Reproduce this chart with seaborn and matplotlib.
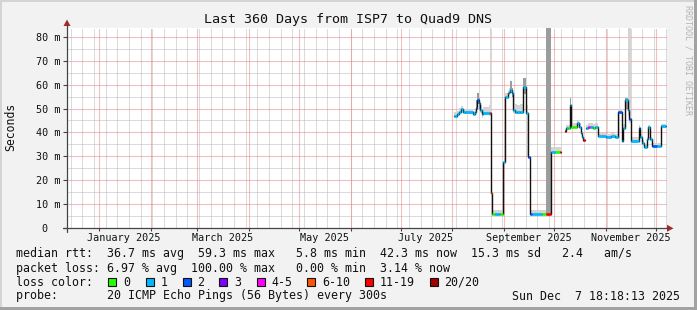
import numpy as np
import pandas as pd
import matplotlib
matplotlib.use("Agg")
import matplotlib.pyplot as plt
import seaborn as sns
from matplotlib.patches import Rectangle, Polygon
from matplotlib.lines import Line2D

# ---------------- data ----------------
start = pd.Timestamp("2024-12-12 18:18:13")
end = pd.Timestamp("2025-12-07 18:18:13")
span_days = 360.0
data_end_day = 359.4

# step segments: start day (days since start), median RTT (ms), loss bucket, smoke low/high (ms), dark smoke flag
seg_day = [232.2, 234.0, 235.2, 236.4, 237.6, 238.8, 243.6, 244.8, 245.4, 246.0,
           246.9, 247.8, 248.7, 249.6, 253.0, 253.5, 254.2, 254.8, 256.5, 259.8,
           261.8, 262.5, 264.6, 265.2, 265.8, 266.8, 267.4, 268.6, 270.0, 271.8,
           273.3, 273.8, 275.4, 276.8, 277.8, 279.0, 284.8, 287.4, 290.2, 290.6,
           292.8, 295.8, 296.4, 298.8, 299.4, 300.3, 301.5, 302.4, 304.2, 306.0,
           306.9, 308.4, 309.2, 309.8, 310.8, 311.2, 312.4, 313.8, 315.3, 316.8,
           318.4, 323.4, 326.6, 328.8, 330.8, 332.8, 333.4, 334.8, 336.4, 337.4,
           338.2, 343.2, 343.8, 344.8, 346.4, 347.8, 348.8, 349.8, 350.8, 353.8,
           356.2]
seg_ms = [47.0, 47.6, 48.7, 49.8, 48.7, 48.4, 47.6, 48.4, 50.1, 53.6,
          52.2, 49.4, 47.6, 48.0, 48.0, 48.0, 14.9, 6.0, 6.0, 6.0,
          27.7, 54.9, 56.3, 57.0, 57.7, 56.6, 49.4, 48.7, 48.4, 48.7,
          49.4, 59.1, 48.0, 29.8, 6.0, 6.0, 6.0, 6.0, 9.6, 32.0,
          32.0, 32.0, np.nan, 40.6, 41.7, 41.7, 51.5, 42.4, 42.4, 43.8,
          42.4, 39.6, 38.2, 36.8, np.nan, 41.7, 42.4, 42.4, 42.0, 42.4,
          38.6, 38.0, 38.6, 38.2, 48.6, 36.6, 42.0, 53.5, 49.3, 45.8,
          36.6, 41.7, 38.3, 35.7, 34.0, 37.1, 42.1, 37.1, 34.3, 34.3,
          42.6]
seg_loss = [1, 1, 1, 1, 1, 1, 1, 1, 2, 2,
            1, 1, 1, 1, 1, 6, 5, 0, 1, 0,
            1, 1, 1, 1, 1, 1, 1, 1, 1, 1,
            1, 1, 1, 2, 2, 1, 0, 6, 2, 1,
            0, 6, 1, 7, 1, 0, 1, 0, 0, 1,
            1, 1, 1, 6, 1, 1, 4, 1, 0, 1,
            1, 1, 1, 1, 2, 1, 1, 1, 1, 2,
            1, 2, 1, 1, 1, 1, 1, 1, 2, 1,
            1]
smoke_lo = [46.6, 47.2, 48.2, 49.2, 48.2, 47.9, 47.2, 47.9, 49.0, 52.0,
            50.0, 48.0, 46.0, 47.5, 47.0, 47.0, np.nan, 6.0, 6.0, 6.0,
            np.nan, 54.2, 55.5, 56.0, 56.5, 55.0, 48.0, 47.5, 47.5, 47.8,
            48.0, 56.0, 30.0, np.nan, 6.0, 6.0, 6.0, 6.0, np.nan, 31.5,
            31.5, 31.5, np.nan, 40.0, 41.0, 41.0, 49.0, 41.8, 41.8, 43.0,
            41.8, 39.0, 37.6, 36.2, np.nan, 41.0, 41.8, 41.8, 41.5, 41.8,
            38.0, 37.5, 38.0, 37.6, 47.5, 36.0, 41.0, 50.0, 47.0, 44.0,
            36.0, 41.0, 37.7, 35.0, 33.5, 36.5, 41.5, 36.5, 33.8, 33.8,
            42.0]
smoke_hi = [48.4, 49.0, 50.2, 51.0, 50.0, 49.6, 49.0, 50.0, 53.5, 56.4,
            54.5, 51.5, 50.0, 50.5, 51.5, 90.0, np.nan, 7.8, 7.8, 7.8,
            np.nan, 56.5, 57.5, 58.5, 61.5, 58.5, 52.5, 52.0, 51.5, 52.0,
            52.0, 62.6, 51.5, np.nan, 7.8, 7.8, 7.8, 90.0, np.nan, 33.8,
            33.8, 33.8, np.nan, 41.5, 43.0, 43.0, 54.3, 43.8, 44.0, 45.0,
            43.8, 41.0, 39.6, 38.0, np.nan, 43.0, 43.8, 44.0, 43.5, 43.8,
            39.8, 39.2, 39.8, 39.5, 50.0, 38.0, 43.5, 54.5, 90.0, 90.0,
            38.0, 43.0, 39.5, 37.0, 35.2, 38.3, 43.3, 38.3, 35.5, 35.5,
            43.5]
smoke_dark = [0, 0, 0, 0, 0, 0, 0, 0, 1, 1,
              1, 0, 0, 0, 0, 0, 0, 0, 0, 0,
              0, 0, 0, 0, 1, 1, 0, 0, 0, 0,
              0, 1, 0, 0, 0, 0, 0, 1, 0, 0,
              0, 0, 0, 0, 0, 0, 1, 0, 0, 0,
              0, 0, 0, 0, 0, 0, 0, 0, 0, 0,
              0, 0, 0, 0, 0, 0, 0, 1, 0, 0,
              0, 0, 0, 0, 0, 0, 0, 0, 0, 0,
              0]

loss_colors = ["#26ff00", "#00b8ff", "#0059ff", "#7e00ff", "#ff00ff", "#ff5500", "#ff0000", "#a10000"]
loss_labels = ["0", "1", "2", "3", "4-5", "6-10", "11-19", "20/20"]
loss_box_x = [108.3, 145.7, 182.7, 219.3, 256.7, 307.3, 365.0, 430.0]

y_ticks = [0, 10, 20, 30, 40, 50, 60, 70, 80]
y_ticklabels = ["0  ", "10 m", "20 m", "30 m", "40 m", "50 m", "60 m", "70 m", "80 m"]
x_label_months = ["2025-01-16", "2025-03-16", "2025-05-16", "2025-07-16", "2025-09-16", "2025-11-16"]
x_label_text = ["January 2025", "March 2025", "May 2025", "July 2025", "September 2025", "November 2025"]

title = "Last 360 Days from ISP7 to Quad9 DNS"
legend_rows = [
    "median rtt:  36.7 ms avg  59.3 ms max   5.8 ms min  42.3 ms now  15.3 ms sd   2.4   am/s",
    "packet loss: 6.97 % avg  100.00 % max   0.00 % min  3.14 % now",
]
probe_text = "probe:       20 ICMP Echo Pings (56 Bytes) every 300s"
stamp_text = "Sun Dec  7 18:18:13 2025"

# ---------------- figure ----------------
sns.set_theme(style="white")
plt.rcParams["font.family"] = ["DejaVu Sans Mono", "DejaVu Sans"]
plt.rcParams["lines.scale_dashes"] = False

W, H = 697, 310
BG = "#f2f2f2"
fig = plt.figure(figsize=(W / 100, H / 100), dpi=100, facecolor=BG)


def fx(px):
    return px / W


def fy(py):
    return 1 - py / H


X0, X1, Y0, Y1 = 67, 667, 228.3, 28
ax = fig.add_axes([fx(X0), fy(Y0), fx(X1) - fx(X0), fy(Y1) - fy(Y0)])
ax.set_facecolor("white")
ax.set_xlim(0, span_days)
ax.set_ylim(0, 83.6)
for s in ax.spines.values():
    s.set_visible(False)


def to_day(ts):
    return (pd.Timestamp(ts) - start) / pd.Timedelta(days=1)


# grid (dotted: 1 px on, 1 px off)
sundays = [to_day(d) for d in pd.date_range("2024-12-15", end, freq="W-SUN")]
month_starts = [to_day(d) for d in pd.date_range("2025-01-01", end, freq="MS")]
dots = (0, (0.72, 0.72))
for d in sundays:
    ax.axvline(d, color="#b8b8b8", lw=0.75, ls=dots, zorder=0.5)
for v in range(5, 84, 10):
    ax.axhline(v, color="#b8b8b8", lw=0.75, ls=dots, zorder=0.5)
for d in month_starts:
    ax.axvline(d, color="#ec7c7c", lw=0.75, ls=dots, zorder=0.6)
for v in range(10, 84, 10):
    ax.axhline(v, color="#ec7c7c", lw=0.75, ls=dots, zorder=0.6)

# build segment table
seg_end = seg_day[1:] + [data_end_day]
seg = pd.DataFrame({"day": seg_day, "end": seg_end, "ms": seg_ms, "loss": seg_loss,
                    "lo": smoke_lo, "hi": smoke_hi, "dark": smoke_dark})

# smoke
sm = seg.dropna(subset=["lo", "hi"])
ax.bar(sm["day"], sm["hi"] - sm["lo"], bottom=sm["lo"], width=sm["end"] - sm["day"],
       align="edge", color="#d4d4d4", linewidth=0, zorder=1)
dk = sm[sm["dark"] == 1]
ax.bar(dk["day"], dk["hi"] - dk["lo"], bottom=dk["lo"], width=dk["end"] - dk["day"],
       align="edge", color="#9c9c9c", linewidth=0, zorder=1.1)

# median line (black steps), split into runs at gaps
rows = []
run = 0
cur = []
for _, r in seg.iterrows():
    if np.isnan(r["ms"]):
        if cur:
            rows.extend(cur)
            rows.append({"day": cur[-1]["end"], "ms": cur[-1]["ms"], "run": run, "end": cur[-1]["end"]})
            run += 1
            cur = []
        continue
    cur.append({"day": r["day"], "ms": r["ms"], "run": run, "end": r["end"]})
if cur:
    rows.extend(cur)
    rows.append({"day": cur[-1]["end"], "ms": cur[-1]["ms"], "run": run, "end": cur[-1]["end"]})
line_df = pd.DataFrame(rows)
sns.lineplot(data=line_df, x="day", y="ms", units="run", estimator=None, sort=False,
             drawstyle="steps-post", color="#111111", lw=1.0, ax=ax, legend=False, zorder=3)

# loss-coloured median pieces
med = seg.dropna(subset=["ms"])
ax.hlines(med["ms"], med["day"], med["end"], colors=[loss_colors[int(l)] for l in med["loss"]],
          lw=1.9, zorder=4)

# ticks
ax.set_yticks(y_ticks, labels=y_ticklabels)
ax.tick_params(axis="y", length=3.2, width=0.8, color="#444444", pad=1.8, labelsize=7.3,
               labelcolor="#111111", left=True)
ax.set_xticks(month_starts, labels=[""] * len(month_starts))
ax.set_xticks([to_day(d) for d in x_label_months], labels=x_label_text, minor=True)
ax.tick_params(axis="x", which="major", length=1.8, width=0.8, color="#444444", bottom=True)
ax.tick_params(axis="x", which="minor", length=0, pad=3.6, labelsize=7.3, labelcolor="#111111")
ax.set_xlabel("")
ax.set_ylabel("")

# axis lines + arrows (figure pixel coordinates)
axis_c = "#444444"
arrow_c = "#a52a2a"
fig.add_artist(Line2D([fx(63), fx(668)], [fy(Y0), fy(Y0)], color=axis_c, lw=0.9))
fig.add_artist(Line2D([fx(X0), fx(X0)], [fy(232), fy(25)], color=axis_c, lw=0.9))
fig.add_artist(Polygon([[fx(667), fy(Y0 - 3.5)], [fx(667), fy(Y0 + 3.5)], [fx(673.5), fy(Y0)]],
                       closed=True, color=arrow_c, lw=0))
fig.add_artist(Polygon([[fx(X0 - 3.5), fy(26)], [fx(X0 + 3.5), fy(26)], [fx(X0), fy(19.5)]],
                       closed=True, color=arrow_c, lw=0))

# texts
fig.text(fx(348.5), fy(19), title, ha="center", va="center", fontsize=9.6, color="#111111")
fig.text(fx(11), fy(127), "Seconds", ha="center", va="center", rotation=90, fontsize=8.3, color="#111111")
fig.text(fx(688), fy(60), "RRDTOOL / TOBI OETIKER", ha="center", va="center", rotation=270,
         fontsize=6.0, color="#b4b4b4")

row_y = [254, 268.3, 282.3, 296]
LF = 8.35
for txt, yy in zip(legend_rows, row_y[:2]):
    fig.text(fx(15.5), fy(yy), txt, ha="left", va="center", fontsize=LF, color="#111111")
fig.text(fx(15.5), fy(row_y[2]), "loss color:", ha="left", va="center", fontsize=LF, color="#111111")
for bx, col, lab in zip(loss_box_x, loss_colors, loss_labels):
    fig.add_artist(Rectangle((fx(bx), fy(row_y[2] + 4)), fx(8), 8 / H, facecolor=col,
                             edgecolor="#111111", lw=0.8))
    fig.text(fx(bx + 14.5), fy(row_y[2]), lab, ha="left", va="center", fontsize=LF, color="#111111")
fig.text(fx(15.5), fy(row_y[3]), probe_text, ha="left", va="center", fontsize=LF, color="#111111")
fig.text(fx(680.5), fy(row_y[3]), stamp_text, ha="right", va="center", fontsize=LF, color="#111111")

# bevel border
fig.add_artist(Rectangle((0, fy(2)), 1, 2 / H, facecolor="#d4d4d4", lw=0))
fig.add_artist(Rectangle((0, 0), fx(2), 1, facecolor="#d4d4d4", lw=0))
fig.add_artist(Rectangle((fx(694), 0), fx(3), 1, facecolor="#a2a2a2", lw=0))
fig.add_artist(Rectangle((0, 0), 1, 3 / H, facecolor="#a2a2a2", lw=0))

fig.savefig("out.png", dpi=100, facecolor=BG)
